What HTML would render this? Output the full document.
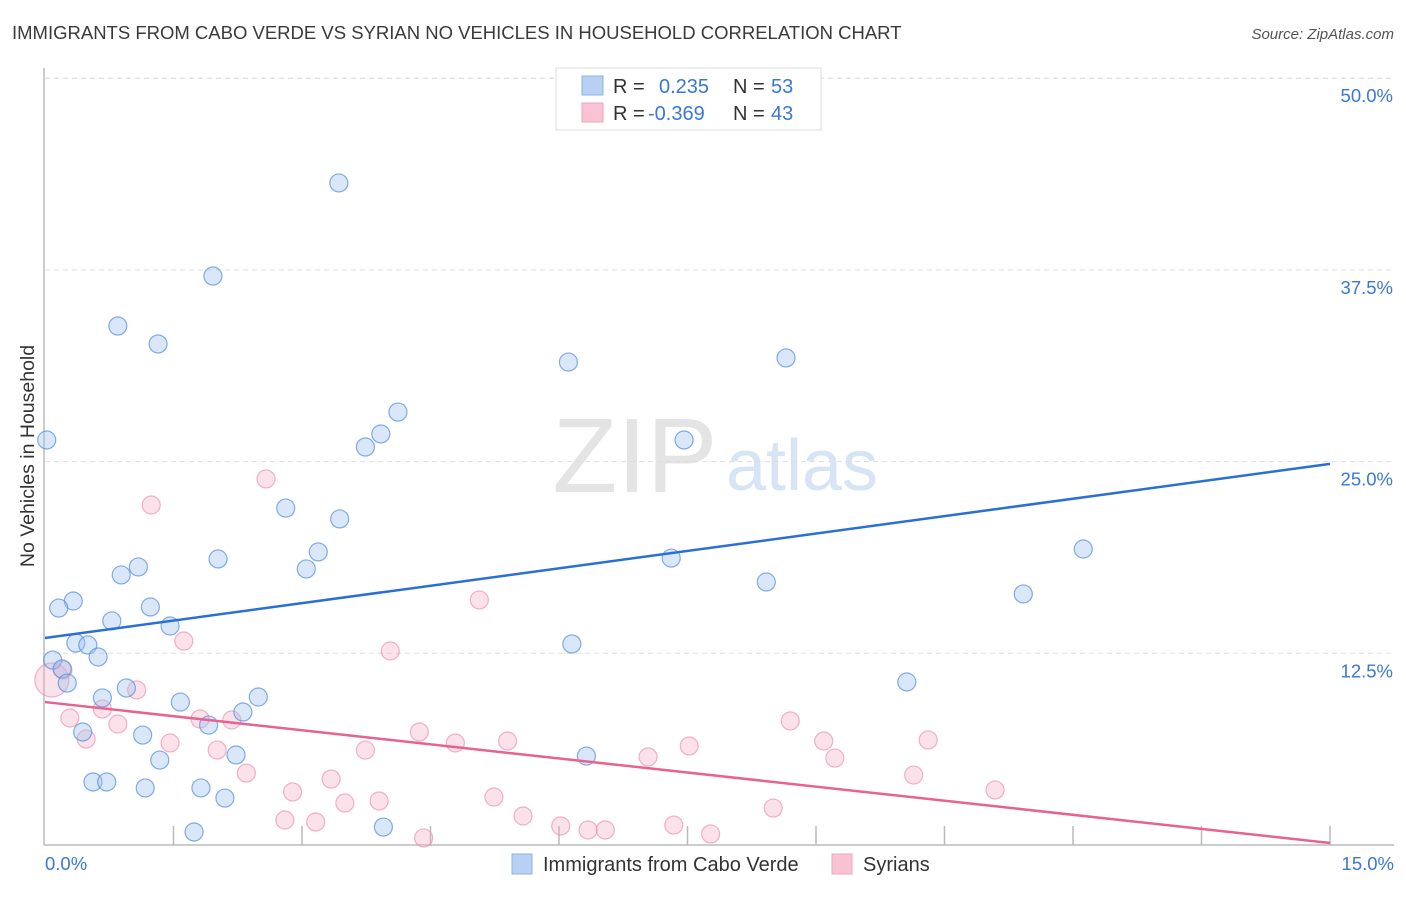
<!DOCTYPE html>
<html><head><meta charset="utf-8"><style>
body{margin:0;background:#fff;font-family:"Liberation Sans",sans-serif;}
svg text{font-family:"Liberation Sans",sans-serif;}
</style></head><body>
<svg id="chart" width="1406" height="892" xmlns="http://www.w3.org/2000/svg">
<text x="12" y="39" font-size="18.5" fill="#3a3a3a">IMMIGRANTS FROM CABO VERDE VS SYRIAN NO VEHICLES IN HOUSEHOLD CORRELATION CHART</text>
<text x="1394" y="39" font-size="15" fill="#555" text-anchor="end" font-style="italic">Source: ZipAtlas.com</text>
<text transform="translate(34,456) rotate(-90)" font-size="19.5" fill="#333" text-anchor="middle">No Vehicles in Household</text>
<g>
<text x="635" y="492" font-size="106" fill="#e4e4e4" text-anchor="middle" font-family="Liberation Serif,serif">ZIP</text>
<text x="802" y="490" font-size="72" fill="#d6e4f5" text-anchor="middle">atlas</text>
</g>
<g id="grid"></g>
<g id="axes"></g>
<g id="dots"></g>
<g id="trends"></g>
<g>
<rect x="556" y="68" width="265" height="62" fill="#fff" stroke="#ddd"/>
<rect x="582" y="76" width="21" height="19" fill="#b8d1f3" stroke="#8ab4e8"/>
<rect x="582" y="103" width="21" height="19" fill="#f8c4d3" stroke="#eea5bd"/>
<text x="613" y="93" font-size="20" fill="#333">R =</text>
<text x="659" y="93" font-size="20" fill="#3a78d4">0.235</text>
<text x="733" y="93" font-size="20" fill="#333">N =</text>
<text x="771" y="93" font-size="20" fill="#3a78d4">53</text>
<text x="613" y="120" font-size="20" fill="#333">R =</text>
<text x="648" y="120" font-size="20" fill="#3a78d4">-0.369</text>
<text x="733" y="120" font-size="20" fill="#333">N =</text>
<text x="771" y="120" font-size="20" fill="#3a78d4">43</text>
</g>
<g>
<rect x="512" y="854" width="20" height="20" fill="#b8d1f3" stroke="#8ab4e8"/>
<text x="543" y="871" font-size="20" fill="#333">Immigrants from Cabo Verde</text>
<rect x="832" y="854" width="20" height="20" fill="#f8c4d3" stroke="#eea5bd"/>
<text x="863" y="871" font-size="20" fill="#333">Syrians</text>
</g>
</svg>
<script>
const yTicks=[12.5,25.0,37.5,50.0];
const xTickLabels=["0.0%","15.0%"];
const blueX=[0.02,3.43,1.96,0.85,1.32,6.11,8.65,4.12,3.92,3.74,7.46,2.81,3.44,3.19,2.02,7.31,3.05,1.09,0.89,8.42,12.12,11.42,0.33,0.16,1.23,0.78,1.46,0.36,0.50,6.15,0.09,0.62,0.20,0.26,10.06,0.95,0.67,1.58,2.49,2.31,1.91,0.44,1.14,2.23,1.34,6.32,0.56,0.72,1.17,1.82,2.10,3.95,1.74];
const blueY=[26.41,43.17,37.10,33.84,32.67,31.49,31.76,28.23,26.80,25.95,26.41,21.97,21.26,19.11,18.65,18.71,18.00,18.13,17.61,17.15,19.30,16.37,15.91,15.45,15.52,14.61,14.28,13.17,13.04,13.11,12.06,12.26,11.48,10.56,10.63,10.24,9.59,9.32,9.65,8.67,7.82,7.37,7.17,5.87,5.54,5.80,4.11,4.11,3.72,3.72,3.06,1.17,0.85];
const pinkX=[0.08,0.21,0.29,0.48,0.67,0.85,1.07,1.24,1.62,1.46,1.81,2.01,2.18,2.35,2.58,2.89,2.80,3.16,3.34,3.50,3.74,3.90,4.03,4.37,4.42,4.79,5.07,5.24,5.40,5.58,6.02,6.34,6.54,7.04,7.34,7.52,7.77,8.50,8.70,9.09,9.22,10.14,10.31,11.09];
const pinkY=[10.76,11.41,8.28,6.91,8.87,7.89,10.11,22.17,13.30,6.65,8.22,6.19,8.15,4.69,23.87,3.46,1.63,1.50,4.30,2.74,6.19,2.87,12.65,7.37,0.46,6.65,15.98,3.13,6.78,1.89,1.24,0.98,0.98,5.74,1.30,6.46,0.72,2.41,8.09,6.78,5.67,4.56,6.85,3.59];
const blueTrend=[13.50,24.85];
const pinkTrend=[9.32,0.13];
const NS="http://www.w3.org/2000/svg";
const X0=45,X1=1330,Y0=845,YPER=191.7/12.5;
const sx=v=>X0+(v/15)*(X1-X0);
const sy=v=>Y0-v*YPER;
function mk(tag,at,parent){const e=document.createElementNS(NS,tag);for(const k in at)e.setAttribute(k,at[k]);parent.appendChild(e);return e;}
const grid=document.getElementById('grid'),axes=document.getElementById('axes'),dots=document.getElementById('dots'),trends=document.getElementById('trends');
const g50=mk('line',{x1:45,x2:1394,y1:sy(50),y2:sy(50),stroke:'#ddd','stroke-dasharray':'5,4'},grid);


yTicks.forEach(t=>{
  const l=mk('line',{x1:45,x2:1394,y1:sy(t),y2:sy(t),stroke:'#ddd','stroke-dasharray':'5,4'},grid);
  
  
  const tx=mk('text',{x:1393,y:sy(t)+24,'font-size':18.5,fill:'#3a78d4','text-anchor':'end'},grid);
  tx.textContent=t.toFixed(1)+'%';
  
  
});
const ya=mk('line',{x1:44,x2:44,y1:68,y2:845,stroke:'#bbb','stroke-width':1.5},axes);


const xa=mk('line',{x1:44,x2:1394,y1:845,y2:845,stroke:'#bbb','stroke-width':1.5},axes);


for(let i=1;i<=10;i++){
  const tk=mk('line',{x1:sx(i*1.5),x2:sx(i*1.5),y1:826,y2:845,stroke:'#bbb','stroke-width':1.5},axes);
  
  
}
const xl0=mk('text',{x:45,y:870,'font-size':18.5,fill:'#3a78d4'},axes);xl0.textContent=xTickLabels[0];


const xl1=mk('text',{x:1394,y:870,'font-size':18.5,fill:'#3a78d4','text-anchor':'end'},axes);xl1.textContent=xTickLabels[1];


pinkX.forEach((x,i)=>{
  const c=mk('circle',{cx:sx(x),cy:sy(pinkY[i]),r:i===0?17:9,fill:'rgba(244,170,195,0.35)',stroke:'rgba(232,140,170,0.65)','stroke-width':1.2},dots);
  
  
});
blueX.forEach((x,i)=>{
  const c=mk('circle',{cx:sx(x),cy:sy(blueY[i]),r:9,fill:'rgba(160,195,240,0.4)',stroke:'rgba(80,140,220,0.7)','stroke-width':1.2},dots);
  
  
});
const bt=mk('line',{x1:sx(0),y1:sy(blueTrend[0]),x2:sx(15),y2:sy(blueTrend[1]),stroke:'#2a6fd6','stroke-width':2.5},trends);


const pt=mk('line',{x1:sx(0),y1:sy(pinkTrend[0]),x2:sx(15),y2:sy(pinkTrend[1]),stroke:'#e8628f','stroke-width':2.5},trends);


</script>
</body></html>
